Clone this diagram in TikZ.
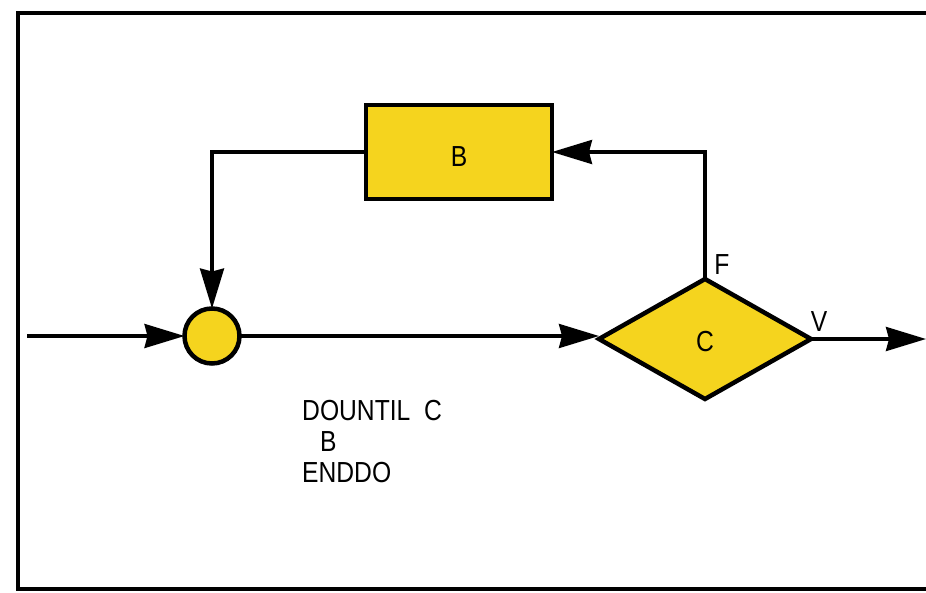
\documentclass[tikz,border=0pt]{standalone}
\usepackage{fontspec}
\usepackage{graphicx}
\setmainfont{Liberation Sans}
\usetikzlibrary{shapes.geometric,arrows.meta}
\definecolor{fillyel}{RGB}{245,212,30}
\newcommand{\cond}[1]{\scalebox{0.85}[1]{#1}}
\tikzset{
  blk/.style={draw=black,line width=4.5pt,fill=fillyel,inner sep=0pt,outer sep=0pt},
  conn/.style={line width=3.2pt,-{Stealth[length=40pt,width=24pt,inset=3pt]}},
  lbl/.style={font=\fontsize{29}{32}\selectfont,inner sep=0pt},
}
\begin{document}
\begin{tikzpicture}[x=1pt,y=-1pt]
\useasboundingbox (0,0) rectangle (926,592);
% frame
\draw[line width=3.2pt,line cap=rect] (926,13) -- (18,13) -- (18,589) -- (926,589);
% shapes
\node[blk,rectangle,minimum width=186pt,minimum height=94pt] (B) at (459,152) {};
\node[lbl] at (459,157) {\cond{B}};
\node[blk,circle,minimum size=55pt] (M) at (212,336) {};
\node[blk,diamond,minimum width=212pt,minimum height=120pt] (C) at (705,339) {};
\node[lbl] at (705,342) {\cond{C}};
% free ends
\coordinate (in) at (27,336);
\coordinate (out) at (926,339);
% connectors
\draw[conn] (in) -- (M.west);
\draw[conn] (M.east) -- (M.east -| C.west);
\draw[conn] (C.east) -- (out);
\draw[conn] (C.north) |- (B.east);
\draw[conn] (B.west) -| (M.north);
% labels
\node[lbl] at (722,265) {\cond{F}};
\node[lbl] at (819,322) {\cond{V}};
\node[lbl,anchor=base west] at (302,420) {\cond{DOUNTIL\ \ C}};
\node[lbl,anchor=base west] at (320,451) {\cond{B}};
\node[lbl,anchor=base west] at (302,482) {\cond{ENDDO}};
\end{tikzpicture}
\end{document}
